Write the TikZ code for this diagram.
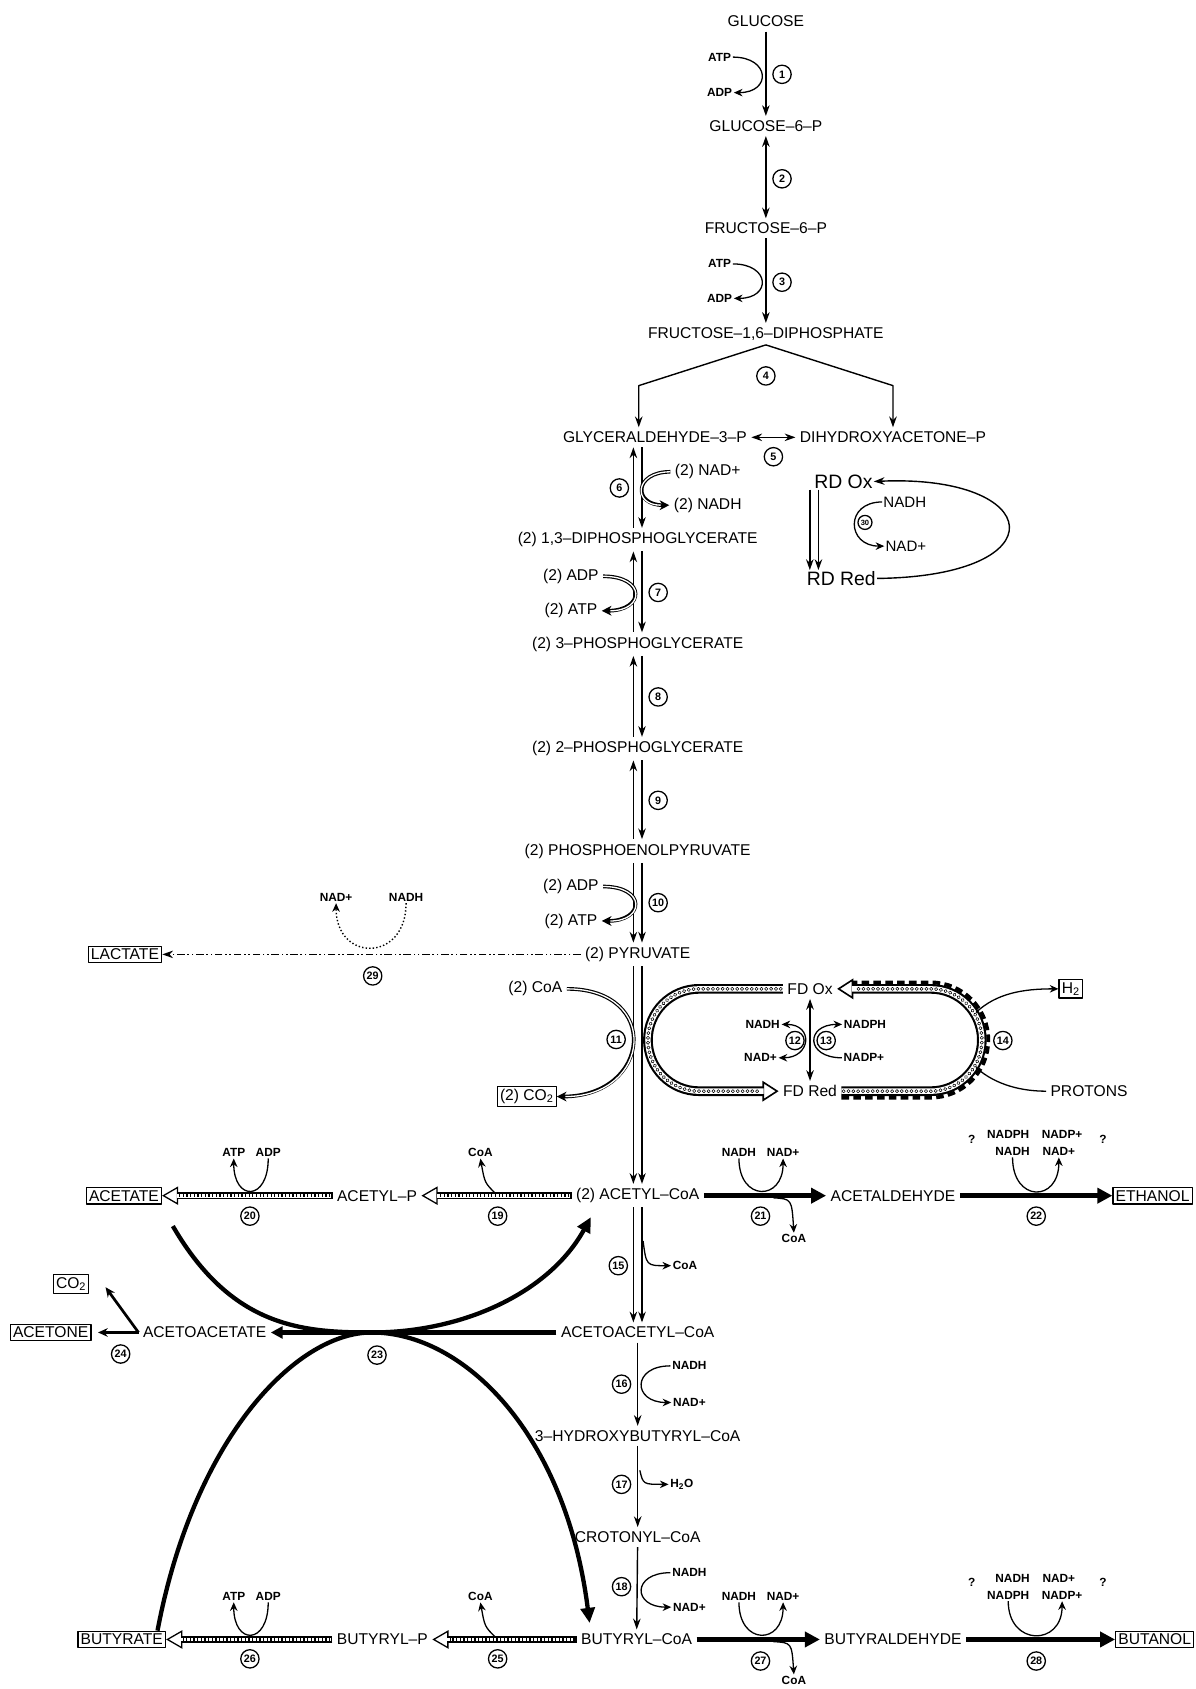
\documentclass[tikz,border=0pt]{standalone}
\usepackage{fontspec}
\setmainfont{Liberation Sans}
\usetikzlibrary{arrows.meta,decorations.markings}

\tikzset{
          met/.style={font=\fontsize{14.5}{16}\selectfont, inner sep=4pt},
          cof/.style={font=\bfseries\fontsize{11}{13}\selectfont, inner sep=1.5pt},
          prod/.style={draw, line width=1.2pt, font=\fontsize{14.5}{16}\selectfont, inner sep=2.5pt},
          num/.style={circle, draw, line width=1.2pt, fill=white, inner sep=0pt, minimum size=17pt, font=\bfseries\fontsize{10}{10}\selectfont}
        }

\begin{document}
\begin{tikzpicture}[x=1pt, y=-1pt, line join=round,
        arr/.style={line width=1.3pt, -{Stealth[length=10pt,width=7pt]}},
        bip/.style={line width=1.3pt, {Stealth[length=10pt,width=7pt]}-{Stealth[length=10pt,width=7pt]}},
        side/.style={line width=1.2pt, -{Stealth[length=8pt,width=7pt]}},
        dside/.style={line width=3.4pt, -{Stealth[length=9pt,width=9pt]},
          postaction={draw, -, white, line width=1.2pt, shorten >=8pt}},
        fat/.style={line width=4.5pt, -{Triangle[length=14pt,width=14pt]}},
        big/.style={line width=4pt},
        hatch/.style={line width=6pt, -{Triangle[open,length=15pt,width=17pt,line width=1.2pt]},
          postaction={draw, -, white, line width=3.6pt, shorten >=14pt, shorten <=1.2pt},
          postaction={draw, -, line width=3pt, dash pattern=on 1.2pt off 2.2pt, shorten >=16pt, shorten <=2pt}},
        bead/.style={line width=9pt, -{Triangle[open,length=15pt,width=19pt,line width=1.5pt]},
          postaction={draw, -, white, line width=5pt, shorten >=14pt},
          postaction={decorate, decoration={markings,
            mark=between positions 2pt and -18pt step 4.5pt with {\draw[line width=0.5pt] (0,0) circle (1.5pt);}}}},
        fdash/.style={line width=3.5pt, dash pattern=on 7pt off 4pt},
        lac/.style={line width=1.3pt, dash pattern=on 7pt off 2.5pt on 1.5pt off 2.5pt on 1.5pt off 2.5pt, -{Stealth[length=10pt,width=7pt]}},
        rd/.style={font=\fontsize{18}{20}\selectfont, inner sep=1pt},
        rdc/.style={font=\fontsize{14}{16}\selectfont, inner sep=1pt}
      ]
  \useasboundingbox (0,0) rectangle (1110,1568);

  % glucose to fructose-1,6-diphosphate
  \node[met] (glc) at (711,20) {GLUCOSE};
  \node[met] (g6p) at (711,117) {GLUCOSE--6--P};
  \node[met] (f6p) at (711,212) {FRUCTOSE--6--P};
  \node[met] (fdp) at (711,310) {FRUCTOSE--1,6--DIPHOSPHATE};
  \draw[arr] (glc) -- (g6p);
  \draw[bip] (g6p) -- (f6p);
  \draw[arr] (f6p) -- (fdp);
  \node[cof] (atp1) at (668,53) {ATP};
  \node[cof] (adp1) at (668,86) {ADP};
  \node[cof] (atp3) at (668,245) {ATP};
  \node[cof] (adp3) at (668,277) {ADP};
  \draw[side] (atp1.east) .. controls +(35,0) and +(35,0) .. (adp1.east);
  \draw[side] (atp3.east) .. controls +(35,0) and +(35,0) .. (adp3.east);

  \coordinate (b4l) at (593,358);
  \coordinate (b4r) at (829,358);
  \node[met] (gap) at (608,406) {GLYCERALDEHYDE--3--P};
  \node[met] (dhap) at (829,406) {DIHYDROXYACETONE--P};
  \draw[arr] (fdp.south) -- (b4l) -- (b4l |- gap.north);
  \draw[arr] (fdp.south) -- (b4r) -- (dhap.north);
  \draw[bip] (gap.east) -- (dhap.west);

  % glycolysis
  \node[met] (dpg) at (592,501) {(2) 1,3--DIPHOSPHOGLYCERATE};
  \node[met] (pga3) at (592,598) {(2) 3--PHOSPHOGLYCERATE};
  \node[met] (pga2) at (592,695) {(2) 2--PHOSPHOGLYCERATE};
  \node[met] (pep) at (592,790) {(2) PHOSPHOENOLPYRUVATE};
  \node[met] (pyr) at (592,886) {(2) PYRUVATE};
  \foreach \a/\b in {gap/dpg, dpg/pga3, pga3/pga2, pga2/pep} {
    \draw[line width=1.3pt, {Stealth[length=10pt,width=7pt]}-] ([xshift=-4pt]\b.north |- \a.south) -- ([xshift=-4pt]\b.north);
    \draw[line width=1.3pt, -{Stealth[length=10pt,width=7pt]}] ([xshift=4pt]\b.north |- \a.south) -- ([xshift=4pt]\b.north);
  }
  \foreach \s in {-4pt,4pt} \draw[arr] ([xshift=\s]pep.south) -- ([xshift=\s]pyr.north);

  \node[met] (nad6) at (657,438) {(2) NAD+};
  \node[met] (nadh6) at (657,469) {(2) NADH};
  \node[met] (adp7) at (530,535) {(2) ADP};
  \node[met] (atp7) at (530,567) {(2) ATP};
  \node[met] (adp10) at (530,823) {(2) ADP};
  \node[met] (atp10) at (530,855) {(2) ATP};
  \draw[dside] (nad6.west) .. controls +(-34,0) and +(-34,0) .. (nadh6.west);
  \draw[dside] (adp7.east) .. controls +(40,0) and +(40,0) .. (atp7.east);
  \draw[dside] (adp10.east) .. controls +(40,0) and +(40,0) .. (atp10.east);

  % RD cycle
  \node[rd] (rdox) at (783,447) {RD Ox};
  \node[rd] (rdred) at (781,537) {RD Red};
  \node[rdc] (nadh30) at (840,466) {NADH};
  \node[rdc] (nad30) at (841,507) {NAD+};
  \node[circle, draw, line width=1.2pt, inner sep=0pt, minimum size=13pt, font=\bfseries\fontsize{7}{7}\selectfont] (n30) at (803,485) {30};
  \foreach \s in {-3pt,5pt} \draw[arr] ([xshift=\s]rdox.south west) -- ([xshift=\s]rdox.south west |- rdred.north);
  \draw[side] (nadh30.west) .. controls +(-35,0) and +(-35,0) .. (nad30.west);
  \draw[arr] (rdred.east) .. controls (985,535) and (970,440) .. (rdox.east);

  % lactate
  \node[prod] (lact) at (116,886) {LACTATE};
  \node[cof] (nadp29) at (312,833) {NAD+};
  \node[cof] (nadh29) at (377,833) {NADH};
  \draw[lac] (pyr.west) -- (lact.east);
  \draw[line width=1.3pt, dotted, -{Stealth[length=8pt,width=7pt]}] (nadh29.south) .. controls +(0,55) and +(0,55) .. (nadp29.south);

  % pyruvate to acetyl-CoA
  \node[met] (acoa) at (592,1110) {(2) ACETYL--CoA};
  \node[met] (coa11) at (497,918) {(2) CoA};
  \node[prod] (co2) at (489,1018) {(2) CO\textsubscript{2}};
  \foreach \s in {-4pt,4pt} \draw[arr] ([xshift=\s]pyr.south) -- ([xshift=\s]acoa.north);
  \draw[dside] (coa11.east) .. controls +(88,0) and +(88,0) .. (co2.east);

  % ferredoxin
  \node[met] (fdox) at (752,918) {FD Ox};
  \node[met] (fdred) at (752,1013) {FD Red};
  \coordinate (lc) at (649,966);
  \coordinate (rc) at (864,966);
  \draw[bead] (fdox.west) -- (lc |- fdox.west) arc[start angle=270, end angle=90, radius=47.5] -- (fdred.west);
  \draw[fdash] ([yshift=-6pt]fdred.east) -- ([yshift=-6pt]rc |- fdred.east) arc[start angle=90, end angle=-90, radius=53.5] -- ([xshift=14pt,yshift=6pt]fdox.east);
  \draw[bead] (fdred.east) -- (rc |- fdred.east) arc[start angle=90, end angle=-90, radius=47.5] -- (fdox.east);
  \draw[bip] (fdox) -- (fdred);
  \node[cof] (nadh12) at (708,951) {NADH};
  \node[cof] (nad12) at (706,982) {NAD+};
  \node[cof] (nadph13) at (803,951) {NADPH};
  \node[cof] (nadp13) at (802,982) {NADP+};
  \draw[line width=1.2pt, {Stealth[length=8pt,width=7pt]}-{Stealth[length=8pt,width=7pt]}] (nadh12.east) .. controls +(30,0) and +(30,0) .. (nad12.east);
  \draw[side] (nadp13.west) .. controls +(-34,0) and +(-34,0) .. (nadph13.west);
  \node[prod] (h2) at (994,918) {H\textsubscript{2}};
  \node[met] (prot) at (1011,1013) {PROTONS};
  \coordinate (p14a) at (906,940);
  \coordinate (p14b) at (906,991);
  \draw[side] (p14a) .. controls (925,922) and (950,918) .. (h2.west);
  \draw[line width=1.2pt] (prot.west) .. controls (950,1013) and (925,1008) .. (p14b);

  % acetate and ethanol
  \node[met] (acp) at (350,1110) {ACETYL--P};
  \node[prod] (acet) at (115,1110) {ACETATE};
  \draw[hatch] (acoa.west) -- (acp.east);
  \draw[hatch] (acp.west) -- (acet.east);
  \node[cof] (coa19) at (446,1070) {CoA};
  \coordinate (c19) at (460,1108);
  \draw[side] (c19) .. controls (450,1098) .. (coa19.south);
  \node[cof] (atp20) at (217,1070) {ATP};
  \node[cof] (adp20) at (249,1070) {ADP};
  \draw[side] (adp20.south) .. controls +(0,40) and +(0,40) .. (atp20.south);

  \node[met] (acald) at (829,1110) {ACETALDEHYDE};
  \node[prod] (etoh) at (1070,1110) {ETHANOL};
  \draw[fat] (acoa.east) -- (acald.west);
  \draw[fat] (acald.east) -- (etoh.west);
  \node[cof] (nadh21) at (686,1070) {NADH};
  \node[cof] (nad21) at (727,1070) {NAD+};
  \node[cof] (coa21) at (737,1150) {CoA};
  \coordinate (c21) at (718,1112);
  \draw[side] (nadh21.south) .. controls +(0,40) and +(0,40) .. (nad21.south);
  \draw[side] (c21) .. controls (735,1113) .. (coa21.north);
  \node[cof] (q22a) at (902,1058) {?};
  \node[cof] (q22b) at (1024,1058) {?};
  \node[cof] (nadph22) at (936,1053) {NADPH};
  \node[cof] (nadp22) at (986,1053) {NADP+};
  \node[cof] (nadh22) at (940,1069) {NADH};
  \node[cof] (nad22) at (983,1069) {NAD+};
  \draw[side] (nadh22.south) .. controls +(0,42) and +(0,42) .. (nad22.south);

  % acetyl-CoA to butyryl-CoA
  \node[met] (aacoa) at (592,1237) {ACETOACETYL--CoA};
  \node[met] (hbcoa) at (592,1333) {3--HYDROXYBUTYRYL--CoA};
  \node[met] (ccoa) at (592,1427) {CROTONYL--CoA};
  \node[met] (bcoa) at (591,1522) {BUTYRYL--CoA};
  \foreach \s in {-4pt,4pt} \draw[arr] ([xshift=\s]acoa.south) -- ([xshift=\s]aacoa.north);
  \draw[arr] (aacoa) -- (hbcoa);
  \draw[arr] (hbcoa) -- (ccoa);
  \draw[arr] (ccoa) -- (bcoa);
  \node[cof] (coa15) at (636,1175) {CoA};
  \coordinate (c15) at (597,1152);
  \draw[side] (c15) .. controls (600,1175) .. (coa15.west);
  \node[cof] (nadh16) at (640,1268) {NADH};
  \node[cof] (nad16) at (640,1302) {NAD+};
  \draw[side] (nadh16.west) .. controls +(-36,0) and +(-36,0) .. (nad16.west);
  \node[cof] (h2o) at (633,1378) {H\textsubscript{2}O};
  \coordinate (c17) at (594,1365);
  \draw[side] (c17) .. controls (597,1378) .. (h2o.west);
  \node[cof] (nadh18) at (640,1460) {NADH};
  \node[cof] (nad18) at (640,1492) {NAD+};
  \draw[side] (nadh18.west) .. controls +(-36,0) and +(-36,0) .. (nad18.west);

  % butyrate and butanol
  \node[met] (bup) at (355,1522) {BUTYRYL--P};
  \node[prod] (buta) at (113,1522) {BUTYRATE};
  \draw[hatch] (bcoa.west) -- (bup.east);
  \draw[hatch] (bup.west) -- (buta.east);
  \node[cof] (coa25) at (446,1482) {CoA};
  \coordinate (c25) at (460,1520);
  \draw[side] (c25) .. controls (450,1510) .. (coa25.south);
  \node[cof] (atp26) at (217,1482) {ATP};
  \node[cof] (adp26) at (249,1482) {ADP};
  \draw[side] (adp26.south) .. controls +(0,40) and +(0,40) .. (atp26.south);

  \node[met] (bald) at (829,1522) {BUTYRALDEHYDE};
  \node[prod] (buoh) at (1072,1522) {BUTANOL};
  \draw[fat] (bcoa.east) -- (bald.west);
  \draw[fat] (bald.east) -- (buoh.west);
  \node[cof] (nadh27) at (686,1482) {NADH};
  \node[cof] (nad27) at (727,1482) {NAD+};
  \node[cof] (coa27) at (737,1560) {CoA};
  \coordinate (c27) at (718,1524);
  \draw[side] (nadh27.south) .. controls +(0,40) and +(0,40) .. (nad27.south);
  \draw[side] (c27) .. controls (735,1525) .. (coa27.north);
  \node[cof] (q28a) at (902,1469) {?};
  \node[cof] (q28b) at (1024,1469) {?};
  \node[cof] (nadh28) at (940,1465) {NADH};
  \node[cof] (nad28) at (983,1465) {NAD+};
  \node[cof] (nadph28) at (936,1481) {NADPH};
  \node[cof] (nadp28) at (986,1481) {NADP+};
  \draw[side] (nadph28.south) .. controls +(0,42) and +(0,42) .. (nadp28.south);

  % acetoacetate, acetone
  \node[met] (acac) at (190,1237) {ACETOACETATE};
  \node[prod] (acetone) at (47,1237) {ACETONE};
  \node[prod] (co2b) at (66,1192) {CO\textsubscript{2}};
  \coordinate (j23) at (345,1237);
  \coordinate (t24) at (98,1195);
  \draw[big, -{Triangle[length=14pt,width=13pt]}] ([xshift=10pt,yshift=-20pt]acet.south east) .. controls (215,1232) and (280,1237) .. (j23)
    .. controls (430,1237) and (510,1200) .. ([xshift=18pt,yshift=-9pt]acoa.south west);
  \draw[big, -{Triangle[length=14pt,width=13pt]}] ([xshift=-8pt]buta.north east) .. controls (180,1335) and (275,1237) .. (j23)
    .. controls (430,1237) and (525,1330) .. ([xshift=12pt,yshift=6pt]bcoa.north west);
  \draw[big, -{Triangle[length=11pt,width=11pt]}] (aacoa.west) -- (acac.east);
  \draw[line width=2.5pt, -{Stealth[length=9pt,width=8pt]}, shorten >=6pt] (acac.west) -- (acetone.east);
  \draw[line width=2.5pt, -{Stealth[length=9pt,width=8pt]}] (acac.west) -- (t24);

  % reaction numbers
  \foreach \n/\x/\y in {1/726/69, 2/726/166, 3/726/262, 4/711/349, 5/718/424, 6/575/453,
      7/611/550, 8/611/647, 9/611/743, 10/611/838, 11/572/965, 12/738/966, 13/767/966,
      14/931/966, 15/574/1175, 16/577/1285, 17/577/1378, 18/577/1473, 19/462/1129,
      20/232/1129, 21/706/1129, 22/962/1129, 23/350/1258, 24/112/1257, 25/462/1540,
      26/232/1540, 27/706/1542, 28/962/1542, 29/346/906}
    \node[num] (n\n) at (\x,\y) {\n};
\end{tikzpicture}
\end{document}
